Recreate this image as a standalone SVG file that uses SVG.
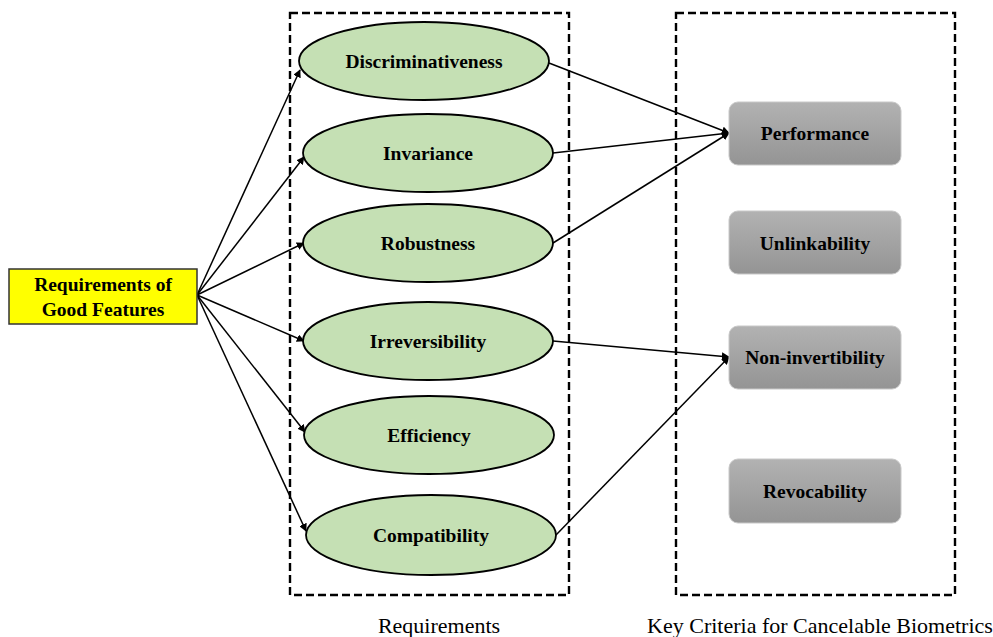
<svg xmlns="http://www.w3.org/2000/svg" width="993" height="637" viewBox="0 0 993 637">
<defs>
<marker id="ah" viewBox="0 0 10 10" refX="9" refY="5" markerWidth="8" markerHeight="8" markerUnits="userSpaceOnUse" orient="auto">
<path d="M0,0 L10,5 L0,10 z" fill="#000"/>
</marker>
<linearGradient id="gray" x1="0" y1="0" x2="0" y2="1">
<stop offset="0" stop-color="#b2b2b2"/>
<stop offset="1" stop-color="#949494"/>
</linearGradient>
<style>
.frame{fill:none;stroke:#000;stroke-width:2.4;stroke-dasharray:8,4}
.ell{fill:#c5e0b4;stroke:#000;stroke-width:1.8}
.crit{fill:url(#gray);stroke:#c8c8c8;stroke-width:1}
.lbl{font-family:"Liberation Serif","Times New Roman",serif;font-weight:bold;font-size:19.5px;fill:#000;text-anchor:middle;dominant-baseline:central}
.cap{font-family:"Liberation Serif","Times New Roman",serif;font-size:22px;fill:#000;text-anchor:middle}
.conn{stroke:#000;stroke-width:1.5;fill:none;marker-end:url(#ah)}
</style>
</defs>
<rect width="993" height="637" fill="#fff"/>
<rect class="frame" x="290" y="13" width="279" height="582"/>
<rect class="frame" x="676" y="13" width="279" height="582"/>
<text class="cap" x="439" y="633">Requirements</text>
<text class="cap" x="820" y="633">Key Criteria for Cancelable Biometrics</text>
<g id="connectors">
<line class="conn" x1="197" y1="295" x2="300" y2="70"/>
<line class="conn" x1="197" y1="295" x2="304" y2="157"/>
<line class="conn" x1="197" y1="295" x2="304" y2="243"/>
<line class="conn" x1="197" y1="295" x2="304" y2="341"/>
<line class="conn" x1="197" y1="295" x2="305" y2="432"/>
<line class="conn" x1="197" y1="295" x2="306" y2="531"/>
<line class="conn" x1="549" y1="63" x2="729" y2="133"/>
<line class="conn" x1="553" y1="153" x2="729" y2="133"/>
<line class="conn" x1="553" y1="243" x2="729" y2="133"/>
<line class="conn" x1="553" y1="341" x2="729" y2="357"/>
<line class="conn" x1="556" y1="535" x2="729" y2="357"/>
</g>
<g id="goodFeatures">
<rect x="9" y="269" width="188" height="55" fill="#ffff00" stroke="#333" stroke-width="1.5"/>
<text class="lbl" x="103" y="284">Requirements of</text>
<text class="lbl" x="103" y="309">Good Features</text>
</g>
<g id="discriminativeness"><ellipse class="ell" cx="424" cy="61" rx="125" ry="39"/><text class="lbl" x="424" y="61">Discriminativeness</text></g>
<g id="invariance"><ellipse class="ell" cx="428" cy="153" rx="125" ry="39"/><text class="lbl" x="428" y="153">Invariance</text></g>
<g id="robustness"><ellipse class="ell" cx="428" cy="243" rx="125" ry="39"/><text class="lbl" x="428" y="243">Robustness</text></g>
<g id="irreversibility"><ellipse class="ell" cx="428" cy="341" rx="125" ry="39"/><text class="lbl" x="428" y="341">Irreversibility</text></g>
<g id="efficiency"><ellipse class="ell" cx="429" cy="435" rx="125" ry="39"/><text class="lbl" x="429" y="435">Efficiency</text></g>
<g id="compatibility"><ellipse class="ell" cx="431" cy="535" rx="125" ry="40"/><text class="lbl" x="431" y="535">Compatibility</text></g>
<g id="performance"><rect class="crit" x="729" y="102" width="172" height="63" rx="9"/><text class="lbl" x="815" y="133">Performance</text></g>
<g id="unlinkability"><rect class="crit" x="729" y="211" width="172" height="63" rx="9"/><text class="lbl" x="815" y="243">Unlinkability</text></g>
<g id="noninvertibility"><rect class="crit" x="729" y="326" width="172" height="63" rx="9"/><text class="lbl" x="815" y="357">Non-invertibility</text></g>
<g id="revocability"><rect class="crit" x="729" y="459" width="172" height="64" rx="9"/><text class="lbl" x="815" y="491">Revocability</text></g>
</svg>
